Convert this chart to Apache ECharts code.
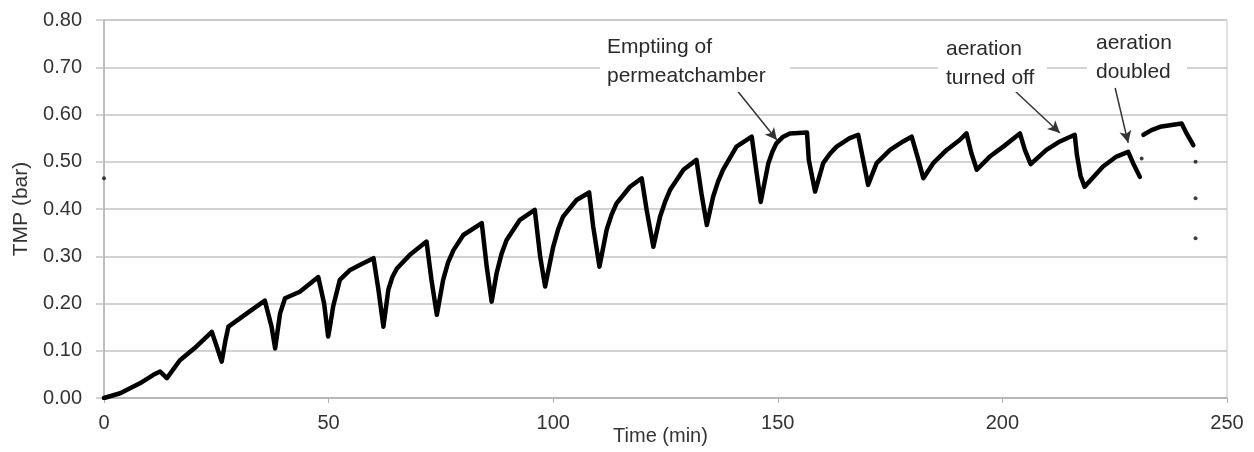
<!DOCTYPE html>
<html>
<head>
<meta charset="utf-8">
<script src="https://cdn.jsdelivr.net/npm/echarts@6/dist/echarts.min.js"></script>
<style>
  html, body { margin: 0; padding: 0; background: #fff; }
  #chart { width: 1254px; height: 452px; }
</style>
</head>
<body>
<div id="chart"></div>
<script>
// Transmembrane pressure during the filtration run (min, bar)
const timeMin = [
  0, 3.6, 8, 11, 12.5, 14, 16.9, 20.6, 24, 25.1, 26.2, 27, 27.7, 31.8, 35.8, 37.3, 38.1,
  39.2, 40.3, 43.6, 47.7, 49.0, 49.9, 50.3, 51, 52.5, 54.8, 57.7, 60, 61.1, 62.2,
  63.3, 64.2, 65.2, 68.1, 71.8, 72.9, 74.1, 75.5, 76.6, 77.8, 80, 84.1, 85.2, 86.3,
  87.4, 88.5, 89.6, 92.6, 95.9, 97.1, 98.2, 100, 101.1, 102.2, 105.2, 108, 108.9, 110.3,
  111.9, 113, 114.1, 117.1, 119.7, 120.8, 122.3, 123.8, 124.9, 126, 129, 131.9, 133, 134.2,
  135.6, 136.7, 137.8, 140.8, 144.2, 145.3, 146.2, 147.9, 148.8, 149.7, 151.2, 152.7, 156.5, 156.9, 158.3,
  160.1, 161.6, 163.1, 166, 167.9, 169, 170.1, 172, 175, 177.9, 179.8, 181.3, 182.4,
  184.6, 187.6, 190.5, 192, 193.1, 194.3, 197.2, 200.2, 203.9, 205, 206.3,
  209.8, 212.8, 216.1, 216.6, 217.4, 218.3, 222.4, 225.4, 228, 229.1, 230.6,
  231.0, 231.4, 233.2, 235.1, 239.9, 241, 242.5
];
const tmpBar = [
  0, 0.010, 0.031, 0.049, 0.056, 0.042, 0.080, 0.109, 0.140, 0.109, 0.077, 0.120, 0.151, 0.179, 0.206, 0.151, 0.105,
  0.179, 0.211, 0.225, 0.256, 0.200, 0.130, 0.151, 0.193, 0.250, 0.271, 0.285, 0.296, 0.229, 0.151,
  0.229, 0.256, 0.274, 0.303, 0.331, 0.250, 0.176, 0.250, 0.287, 0.313, 0.345, 0.370, 0.278, 0.204,
  0.264, 0.305, 0.334, 0.377, 0.398, 0.299, 0.236, 0.320, 0.357, 0.384, 0.419, 0.435, 0.363, 0.278,
  0.356, 0.388, 0.412, 0.447, 0.465, 0.398, 0.320, 0.384, 0.415, 0.440, 0.483, 0.504, 0.433, 0.366,
  0.426, 0.458, 0.483, 0.532, 0.553, 0.476, 0.415, 0.497, 0.521, 0.539, 0.553, 0.560, 0.562, 0.504, 0.437,
  0.497, 0.517, 0.532, 0.550, 0.557, 0.504, 0.451, 0.497, 0.525, 0.543, 0.553, 0.504, 0.465,
  0.497, 0.525, 0.546, 0.560, 0.518, 0.483, 0.511, 0.532, 0.560, 0.525, 0.495,
  0.525, 0.543, 0.557, 0.514, 0.470, 0.447, 0.490, 0.511, 0.521, 0.497, 0.468,
  null, 0.557, 0.567, 0.574, 0.581, 0.560, 0.535
];

// Isolated readings
const strayTime = [0, 231, 243, 243, 243];
const strayTmp = [0.465, 0.507, 0.500, 0.423, 0.338];

// Axis ticks
const xTicks = [0, 50, 100, 150, 200, 250];
const yTicks = [0, 0.1, 0.2, 0.3, 0.4, 0.5, 0.6, 0.7, 0.8];

// Event notes: text lines, arrow tail and arrow head (min, bar)
const notes = [
  { lines: ['Emptiing of', 'permeatchamber'], from: [140.5, 0.656], to: [149.8, 0.546] },
  { lines: ['aeration', 'turned off'], from: [202.1, 0.656], to: [212.8, 0.561] },
  { lines: ['aeration', 'doubled'], from: [225.1, 0.656], to: [228.0, 0.540] }
];

const FONT = '"Liberation Sans", Arial, sans-serif';
const GRID_C = '#c4c4c4';
const TEXT_C = '#333';

const chart = echarts.init(document.getElementById('chart'), null, { renderer: 'canvas' });

const traceData = timeMin.map((t, i) => [t, tmpBar[i]]);
const strayData = strayTime.map((t, i) => [t, strayTmp[i]]);

const grid = {
  left: 104, right: 27, top: 20, bottom: 54,
  containLabel: false,
  outerBoundsMode: 'none'
};

const option = {
  animation: false,
  backgroundColor: '#fff',
  grid: Object.assign({ show: true, borderColor: GRID_C, borderWidth: 1 }, grid),
  xAxis: {
    type: 'value',
    min: xTicks[0], max: xTicks[xTicks.length - 1], interval: 50,
    name: 'Time (min)',
    nameLocation: 'middle',
    nameGap: 28,
    nameMoveOverlap: false,
    nameTextStyle: { fontFamily: FONT, fontSize: 20, color: TEXT_C, padding: [0, 10, 0, 0] },
    axisLine: { show: true, lineStyle: { color: '#b0b0b0', width: 1.5 } },
    axisTick: { show: true, length: 5, lineStyle: { color: '#b0b0b0' } },
    axisLabel: { margin: 15, fontFamily: FONT, fontSize: 20, color: TEXT_C },
    splitLine: { show: false }
  },
  yAxis: {
    type: 'value',
    min: yTicks[0], max: yTicks[yTicks.length - 1], interval: 0.1,
    name: 'TMP (bar)',
    nameLocation: 'middle',
    nameGap: 72,
    nameMoveOverlap: false,
    nameTextStyle: { fontFamily: FONT, fontSize: 21, color: TEXT_C },
    axisLine: { show: true, lineStyle: { color: '#b0b0b0', width: 1.5 } },
    axisTick: { show: true, length: 8, lineStyle: { color: GRID_C, width: 1.5 } },
    axisLabel: {
      margin: 22, fontFamily: FONT, fontSize: 20, color: TEXT_C,
      formatter: v => v.toFixed(2)
    },
    splitLine: { show: true, lineStyle: { color: GRID_C, width: 1.5 } }
  },
  series: [
    {
      type: 'line',
      data: traceData,
      showSymbol: false,
      connectNulls: false,
      lineStyle: { color: '#000', width: 4.5, join: 'round', cap: 'round' },
      z: 3,
      markLine: {
        silent: true,
        symbol: ['none', 'arrow'],
        symbolSize: [9, 12],
        label: { show: false },
        lineStyle: { color: '#333', width: 1.5, type: 'solid' },
        data: notes.map(n => [{ coord: n.from }, { coord: n.to }])
      }
    },
    {
      type: 'scatter',
      data: strayData,
      symbol: 'circle',
      symbolSize: 4,
      itemStyle: { color: '#111' },
      z: 3
    }
  ]
};

chart.setOption(option);

// Note boxes: a white patch behind each note breaks the gridline it sits on
const boxes = [
  { x: 600, y: 34, w: 190, h: 58, tx: 607, ty: 33 },
  { x: 938, y: 34, w: 109, h: 58, tx: 946, ty: 35 },
  { x: 1087, y: 28, w: 100, h: 58, tx: 1096, ty: 29 }
];
const graphics = [];
notes.forEach((n, i) => {
  const b = boxes[i];
  graphics.push({
    type: 'rect', left: b.x, top: b.y, z: 10,
    shape: { width: b.w, height: b.h },
    style: { fill: '#fff' }
  });
  graphics.push({
    type: 'text', left: b.tx, top: b.ty, z: 11,
    style: {
      text: n.lines.join('\n'),
      font: '21px ' + FONT,
      lineHeight: 29,
      fill: '#2a2a2a'
    }
  });
});
chart.setOption({ graphic: graphics });
</script>
</body>
</html>
